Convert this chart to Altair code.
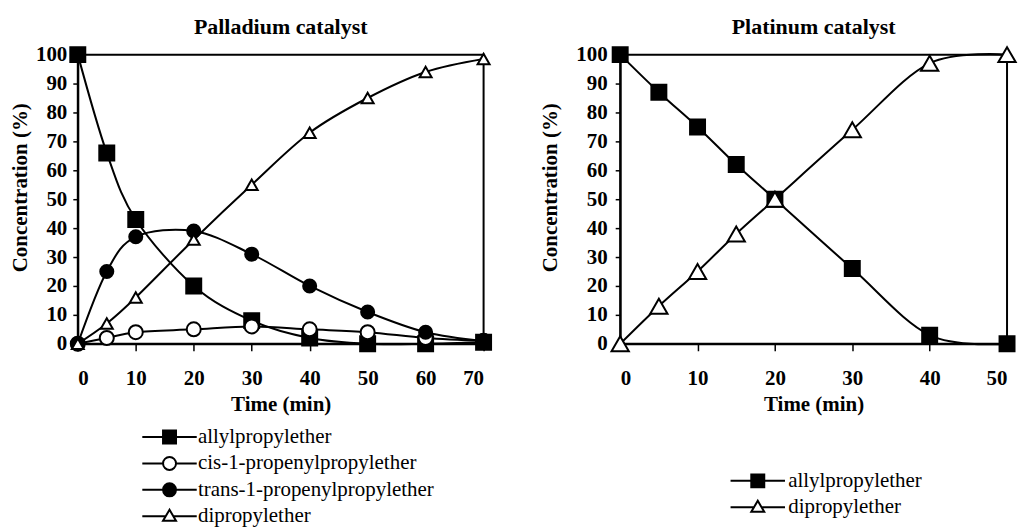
import altair as alt
import pandas as pd

FONT = "Liberation Serif"

# ---------------- data ----------------
pd_time = [0, 5, 10, 20, 30, 40, 50, 60, 70]
pd_allyl = [100, 66, 43, 20, 8, 2, 0, 0, 0.5]
pd_cis = [0, 2, 4, 5, 6, 5, 4, 2, 1]
pd_trans = [0, 25, 37, 39, 31, 20, 11, 4, 1]
pd_dipropyl = [0, 7, 16, 36, 55, 73, 85, 94, 98.5]

pt_time = [0, 5, 10, 15, 20, 30, 40, 50]
pt_allyl = [100, 87, 75, 62, 50, 26, 3, 0]
pt_dipropyl = [0, 13, 25, 38, 50, 74, 97, 100]

pd_series = ["allylpropylether", "cis-1-propenylpropylether",
             "trans-1-propenylpropylether", "dipropylether"]
pt_series = ["allylpropylether", "dipropylether"]


def long_df(time, named):
    rows = []
    for name, vals in named:
        for t, v in zip(time, vals):
            rows.append({"time": t, "conc": v, "series": name})
    return pd.DataFrame(rows)


df_pd = long_df(pd_time, [(pd_series[0], pd_allyl), (pd_series[1], pd_cis),
                          (pd_series[2], pd_trans), (pd_series[3], pd_dipropyl)])
df_pt = long_df(pt_time, [(pt_series[0], pt_allyl), (pt_series[1], pt_dipropyl)])

# ---------------- styles ----------------
STYLE = {
    "allylpropylether": ("square", "black", 225,
                         "M-4.2,0H4.2M-1,-1H1V1H-1Z"),
    "cis-1-propenylpropylether": ("circle", "white", 144,
                                  "M-4.2,0H-1M1,0H4.2M-1,0A1,1,0,1,0,1,0A1,1,0,1,0,-1,0Z"),
    "trans-1-propenylpropylether": ("circle", "black", 196,
                                    "M-4.2,0H4.2M-1,0A1,1,0,1,0,1,0A1,1,0,1,0,-1,0Z"),
    "dipropylether": ("triangle-up", "white", 300,
                      "M-4.2,0H-0.59M0.59,0H4.2M0,-1L1,0.7L-1,0.7Z"),
}


def panel(df, series, xmax, width, title, ylab_pad, ytitle_pad, leg_x, leg_y, leg_off):
    shapes = [STYLE[s][0] for s in series]
    fills = [STYLE[s][1] for s in series]
    sizes = [STYLE[s][2] for s in series]
    paths = [STYLE[s][3] for s in series]

    x = alt.X("time:Q",
              scale=alt.Scale(domain=[0, xmax], nice=False, zero=False),
              axis=alt.Axis(title="Time (min)", values=list(range(0, xmax + 1, 10)),
                            tickSize=7, labelPadding=17, titlePadding=5,
                            titleFontSize=21))
    y = alt.Y("conc:Q",
              scale=alt.Scale(domain=[0, 100], nice=False),
              axis=alt.Axis(title="Concentration (%)", values=list(range(0, 101, 10)),
                            tickSize=5, labelPadding=ylab_pad, titlePadding=ytitle_pad,
                            titleFontSize=21, titleY=133))

    base = alt.Chart(df)
    lines = base.mark_line(interpolate="cardinal", color="black", strokeWidth=2).encode(
        x=x, y=y, detail="series:N")
    points = base.mark_point(filled=False, stroke="black", strokeWidth=2, opacity=1).encode(
        x=x, y=y,
        shape=alt.Shape("series:N", scale=alt.Scale(domain=series, range=shapes), legend=None),
        fill=alt.Fill("series:N", scale=alt.Scale(domain=series, range=fills), legend=None),
        size=alt.Size("series:N", scale=alt.Scale(domain=series, range=sizes), legend=None),
    )
    leg = alt.Legend(title=None, orient="none", legendX=leg_x, legendY=leg_y,
                     labelFont=FONT, labelFontSize=21, labelFontWeight="normal",
                     labelColor="black", labelLimit=500, labelOffset=leg_off,
                     rowPadding=4.5, symbolSize=169, symbolStrokeWidth=2,
                     symbolStrokeColor="black", symbolOpacity=1)
    legend_layer = base.transform_filter("false").mark_point(
        filled=False, stroke="black", strokeWidth=2, size=169).encode(
        x=x, y=y,
        shape=alt.Shape("series:N", scale=alt.Scale(domain=series, range=paths), legend=leg),
        fill=alt.Fill("series:N", scale=alt.Scale(domain=series, range=fills), legend=leg),
        stroke=alt.Stroke("series:N", scale=alt.Scale(domain=series, range=["black"] * len(series)),
                          legend=leg),
    )
    return alt.layer(lines, points, legend_layer).resolve_scale(
        shape="independent", fill="independent", size="independent", stroke="independent"
    ).properties(
        width=width, height=290,
        title=alt.TitleParams(title, font=FONT, fontSize=22, fontWeight="bold",
                              color="black", anchor="middle", offset=4),
    )


left = panel(df_pd, pd_series, 70, 407, "Palladium catalyst", 6, 5, 81.5, 373, 18)
right = panel(df_pt, pt_series, 50, 388, "Platinum catalyst", 8, 15, 127.5, 417, 20)

chart = alt.hconcat(left, right, spacing=42).resolve_scale(
    shape="independent", fill="independent", size="independent", stroke="independent"
).properties(
    padding={"top": 6, "left": 0, "right": -3, "bottom": 0},
).configure_view(
    stroke="black", strokeWidth=2
).configure_axis(
    grid=False, domainColor="black", domainWidth=2, tickColor="black", tickWidth=1.5,
    labelFont=FONT, labelFontSize=21, labelFontWeight="bold", labelColor="black",
    titleFont=FONT, titleFontSize=20, titleFontWeight="bold", titleColor="black",
)

chart.save("out.html", embed_options={"renderer": "svg", "actions": False})
